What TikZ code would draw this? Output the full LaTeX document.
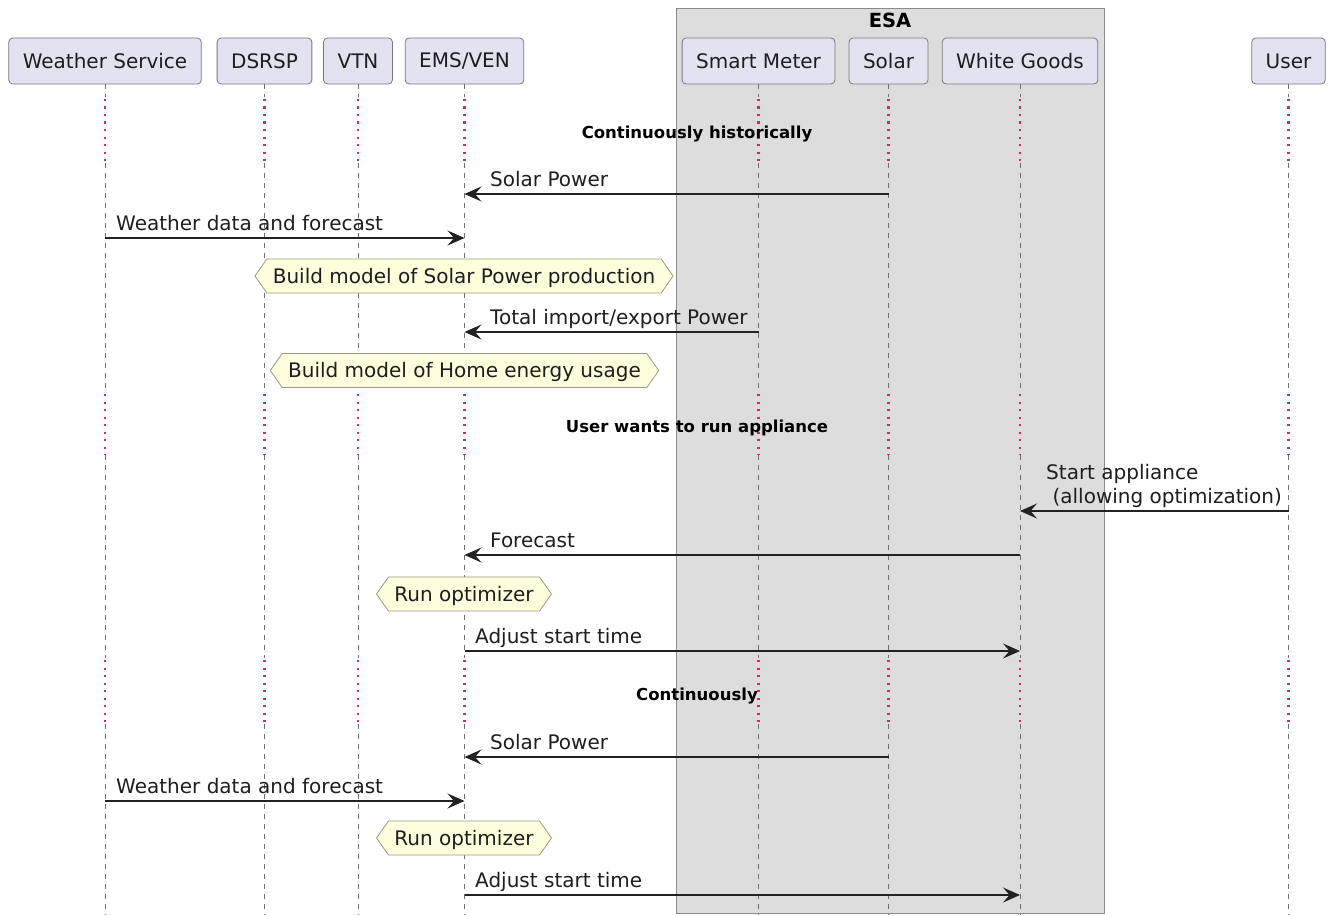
\documentclass[tikz,border=0pt]{standalone}
\usepackage{fontspec}
\setmainfont{DejaVu Sans}
\usetikzlibrary{arrows.meta,shapes.symbols}
\definecolor{partfill}{HTML}{E2E2F0}
\definecolor{partline}{HTML}{7A7A7A}
\definecolor{boxfill}{HTML}{DDDDDD}
\definecolor{boxline}{HTML}{8A8A8A}
\definecolor{hexfill}{HTML}{FEFFDD}
\definecolor{hexline}{HTML}{9A9A86}
\definecolor{txt}{HTML}{1E1E1E}
\definecolor{msgline}{HTML}{222222}
\definecolor{lifeline}{HTML}{6E6E6E}
\definecolor{delaydot}{HTML}{D22D5A}
\begin{document}
\begin{tikzpicture}[x=1pt,y=-1pt,
  part/.style={draw=partline, fill=partfill, rounded corners=4pt, line width=0.8pt,
    minimum height=46pt, inner xsep=14pt, text=txt, font=\fontsize{20}{24}\selectfont},
  msg/.style={draw=msgline, line width=1.3pt,
    -{Stealth[length=17pt,width=15pt,inset=6.5pt]}},
  lbl/.style={anchor=base west, inner sep=0pt, text=txt, font=\fontsize{20}{24}\selectfont},
  delaytxt/.style={anchor=base, inner sep=0pt, text=black, font=\bfseries\fontsize{16.5}{20}\selectfont},
  hexnote/.style={signal, signal to=east and west, signal pointer angle=110,
    draw=hexline, fill=hexfill, line width=0.8pt, minimum height=34pt, inner xsep=6pt,
    inner ysep=0pt, text height=14.6pt, text depth=0pt, text=txt,
    font=\fontsize{20}{24}\selectfont},
  life/.style={draw=lifeline, line width=0.8pt, dash pattern=on 5pt off 5pt},
  delayline/.style={draw=delaydot, line width=2.2pt, dash pattern=on 2.2pt off 5.3pt}]
\useasboundingbox (0,0) rectangle (1329,915);

% ESA group box
\draw[draw=boxline, fill=boxfill, line width=1pt] (676,9) rectangle (1104,913);
\node[inner sep=0pt, font=\bfseries\fontsize{19.5}{22}\selectfont] (esa) at (890,20) {ESA};

% participants
\node[part] (ws)    at (105,61)    {Weather Service};
\node[part] (dsrsp) at (264.5,61)  {DSRSP};
\node[part] (vtn)   at (358,61)    {VTN};
\node[part] (ems)   at (464.5,61)  {EMS/VEN};
\node[part] (sm)    at (758.5,61)  {Smart Meter};
\node[part] (solar) at (888.5,61)  {Solar};
\node[part] (wg)    at (1020,61)   {White Goods};
\node[part] (user)  at (1288.5,61) {User};

% lifelines, dotted where time passes
\foreach \p in {ws,dsrsp,vtn,ems,sm,solar,wg,user}{
  \draw[life] (\p.south) -- (\p |- 0,97);
  \draw[delayline] (\p |- 0,99) -- (\p |- 0,163);
  \draw[life] (\p |- 0,163) -- (\p |- 0,392);
  \draw[delayline] (\p |- 0,394) -- (\p |- 0,455);
  \draw[life] (\p |- 0,455) -- (\p |- 0,658);
  \draw[delayline] (\p |- 0,660) -- (\p |- 0,724);
  \draw[life] (\p |- 0,724) -- (\p |- 0,915);
}

% delays
\node[delaytxt] (d1) at (697,138) {Continuously historically};
\node[delaytxt] (d2) at (697,432) {User wants to run appliance};
\node[delaytxt] (d3) at (697,700) {Continuously};

% historic phase
\draw[msg] (solar |- 0,194) -- (ems |- 0,194);
\node[lbl] (l1) at (490,186.5) {Solar Power};
\draw[msg] (ws |- 0,238) -- (ems |- 0,238);
\node[lbl] (l2) at (116,230.5) {Weather data and forecast};
\node[hexnote] (h1) at (464,276) {Build model of Solar Power production};
\draw[msg] (sm |- 0,332) -- (ems |- 0,332);
\node[lbl] (l3) at (490,324.5) {Total import/export Power};
\node[hexnote] (h2) at (464.5,370.5) {Build model of Home energy usage};

% appliance start
\draw[msg] (user |- 0,511) -- (wg |- 0,511);
\node[lbl, align=left] (l4) at (1046,503.5) {Start appliance\\\hspace*{6.4pt}(allowing optimization)};
\draw[msg] (wg |- 0,555) -- (ems |- 0,555);
\node[lbl] (l5) at (490,547.5) {Forecast};
\node[hexnote] (h3) at (464,594) {Run optimizer};
\draw[msg] (ems |- 0,651) -- (wg |- 0,651);
\node[lbl] (l6) at (475,643.5) {Adjust start time};

% continuous phase
\draw[msg] (solar |- 0,757) -- (ems |- 0,757);
\node[lbl] (l7) at (490,749.5) {Solar Power};
\draw[msg] (ws |- 0,801) -- (ems |- 0,801);
\node[lbl] (l8) at (116,793.5) {Weather data and forecast};
\node[hexnote] (h4) at (464,838) {Run optimizer};
\draw[msg] (ems |- 0,895) -- (wg |- 0,895);
\node[lbl] (l9) at (475,887.5) {Adjust start time};
\end{tikzpicture}
\end{document}
